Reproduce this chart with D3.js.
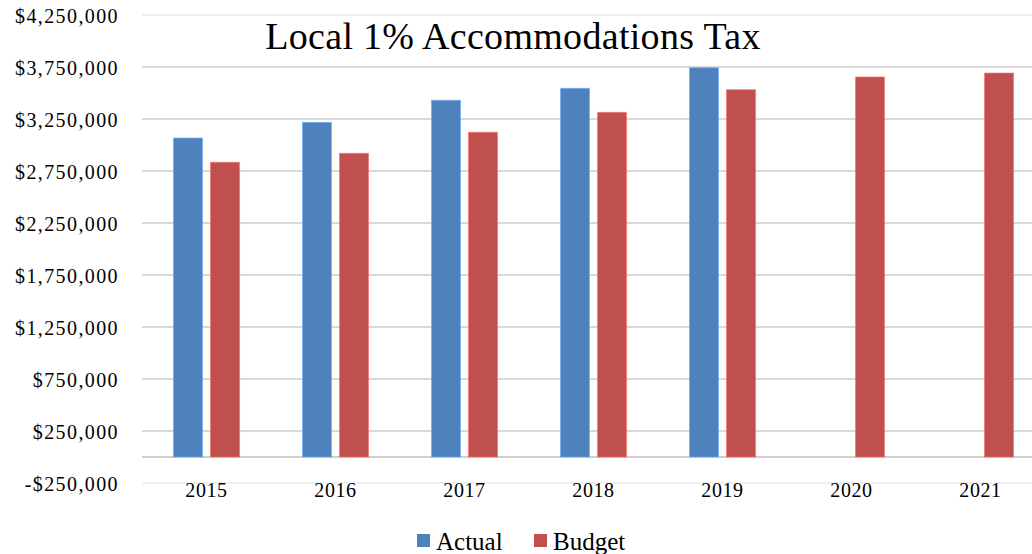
<!DOCTYPE html>
<html>
<head>
<meta charset="utf-8">
<script src="https://cdn.jsdelivr.net/npm/d3@7"></script>
<style>
  html, body { margin: 0; padding: 0; background: #fff; }
  svg { display: block; }
  text { font-family: "Liberation Serif", "DejaVu Serif", serif; fill: #000; }
</style>
</head>
<body>
<svg id="chart" width="1032" height="554"></svg>
<script>
// Fiscal years shown on the x axis
const years = ["2015", "2016", "2017", "2018", "2019", "2020", "2021"];
// Series names and colours
const seriesNames = ["Actual", "Budget"];
const seriesColors = ["#4F81BD", "#C0504D"];
// Collections (null where no actual figure exists yet)
const actual = [3067000, 3218000, 3430000, 3545000, 3743000, null, null];
const budget = [2834000, 2920000, 3122000, 3314000, 3532000, 3654000, 3692000];
// Value axis ticks
const yTicks = [-250000, 250000, 750000, 1250000, 1750000, 2250000, 2750000, 3250000, 3750000, 4250000];

const svg = d3.select("#chart");

const plotLeft = 142, plotRight = 1045;
const y = d3.scaleLinear().domain([-250000, 4250000]).range([483, 15]);

const x0 = d3.scaleBand().domain(years).range([plotLeft, plotRight])
  .paddingInner(0.488).paddingOuter(0.244);
const x1 = d3.scaleBand().domain(seriesNames).range([0, x0.bandwidth()])
  .paddingInner(0.216);
const color = d3.scaleOrdinal().domain(seriesNames).range(seriesColors);

// Horizontal gridlines
const gridColor = v => (v === -250000 || v === 4250000) ? "#f1f1f1" : "#d9d9d9";
svg.append("g").selectAll("line").data(yTicks).join("line")
  .attr("x1", plotLeft).attr("x2", 1032)
  .attr("y1", d => y(d)).attr("y2", d => y(d))
  .attr("stroke", gridColor).attr("stroke-width", 2);

// Zero baseline
svg.append("line")
  .attr("x1", plotLeft).attr("x2", 1032)
  .attr("y1", y(0)).attr("y2", y(0))
  .attr("stroke", "#d0d0d0").attr("stroke-width", 2);

// Y axis labels
const fmt = v => (v < 0 ? "-$" : "$") + d3.format(",")(Math.abs(v));
const yAxis = d3.axisLeft(y).tickValues(yTicks).tickFormat(fmt).tickSize(0).tickPadding(0);
const yg = svg.append("g").attr("transform", "translate(119,0)").call(yAxis);
yg.select(".domain").remove();
yg.selectAll("text")
  .attr("font-size", 20)
  .attr("letter-spacing", "1.4px")
  .attr("font-family", "Liberation Serif, serif")
  .attr("fill", "#000")
  .attr("dy", "0.35em");

// X axis labels
const xAxis = d3.axisBottom(x0).tickSize(0).tickPadding(0);
const xg = svg.append("g").attr("transform", "translate(0,480)").call(xAxis);
xg.select(".domain").remove();
xg.selectAll("text")
  .attr("font-size", 20)
  .attr("letter-spacing", "0.6px")
  .attr("font-family", "Liberation Serif, serif")
  .attr("fill", "#000")
  .attr("dy", "0.35em")
  .attr("y", 10);

// Bars
const rows = years.map((yr, i) => ({
  year: yr,
  values: [
    { key: "Actual", value: actual[i] },
    { key: "Budget", value: budget[i] }
  ].filter(d => d.value != null)
}));

svg.append("g").selectAll("g").data(rows).join("g")
  .attr("transform", d => `translate(${x0(d.year)},0)`)
  .selectAll("rect").data(d => d.values).join("rect")
  .attr("x", d => x1(d.key))
  .attr("width", x1.bandwidth())
  .attr("y", d => y(d.value))
  .attr("height", d => y(0) - y(d.value))
  .attr("fill", d => color(d.key))
  .attr("stroke", d => d3.color(color(d.key)).brighter(0.8))
  .attr("stroke-opacity", 0.6)
  .attr("stroke-width", 1);

// Title
svg.append("text")
  .attr("x", 513).attr("y", 36)
  .attr("text-anchor", "middle")
  .attr("dominant-baseline", "central")
  .attr("font-size", 38)
  .attr("letter-spacing", "0.3px")
  .text("Local 1% Accommodations Tax");

// Legend
const legend = svg.append("g");
const legendItems = [
  { key: "Actual", sx: 417, tx: 436 },
  { key: "Budget", sx: 534, tx: 553 }
];
legend.selectAll("rect").data(legendItems).join("rect")
  .attr("x", d => d.sx).attr("y", 534)
  .attr("width", 13).attr("height", 13)
  .attr("fill", d => color(d.key));
legend.selectAll("text").data(legendItems).join("text")
  .attr("x", d => d.tx).attr("y", 541)
  .attr("dominant-baseline", "central")
  .attr("font-size", 25)
  .text(d => d.key);
</script>
</body>
</html>
